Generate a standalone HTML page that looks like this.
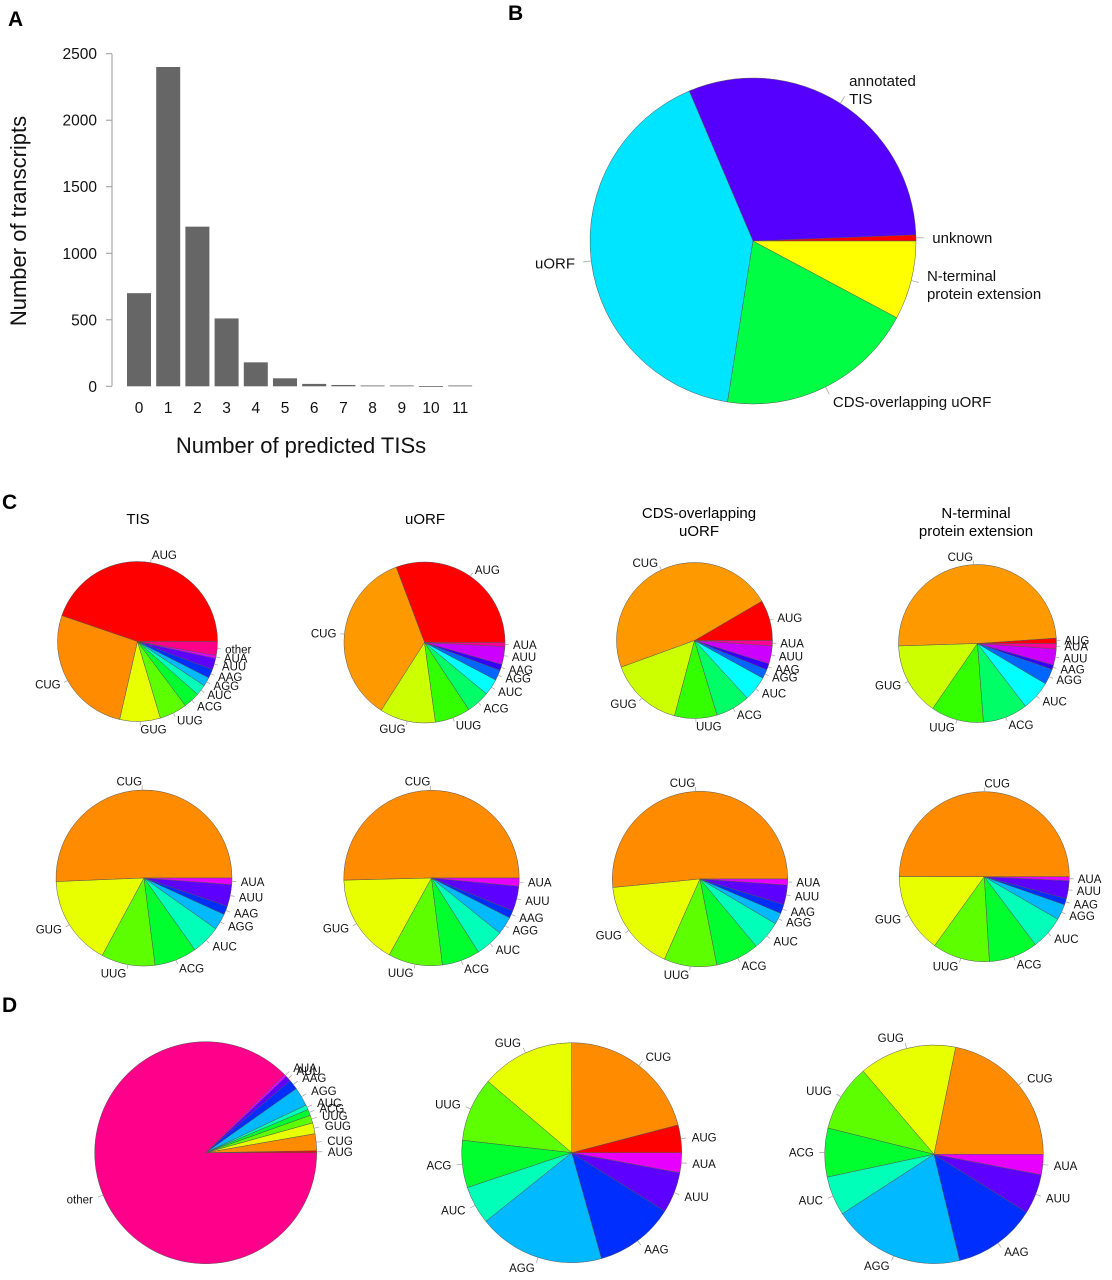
<!DOCTYPE html>
<html><head><meta charset="utf-8"><style>
html,body{margin:0;padding:0;background:#fff;}
svg{display:block;font-family:"Liberation Sans",Arial,sans-serif;}
</style></head><body>
<svg id="fig" width="1112" height="1280" viewBox="0 0 1112 1280">
<text x="8" y="26" font-size="21" font-weight="bold">A</text>
<text x="508" y="20" font-size="21" font-weight="bold">B</text>
<text x="2" y="509" font-size="21" font-weight="bold">C</text>
<text x="2" y="1012" font-size="21" font-weight="bold">D</text>
<text x="138" y="524" font-size="15" text-anchor="middle">TIS</text>
<text x="425" y="524" font-size="15" text-anchor="middle">uORF</text>
<text x="699" y="518" font-size="15" text-anchor="middle"><tspan x="699">CDS-overlapping</tspan><tspan x="699" dy="18">uORF</tspan></text>
<text x="976" y="518" font-size="15" text-anchor="middle"><tspan x="976">N-terminal</tspan><tspan x="976" dy="18">protein extension</tspan></text>
<g id="panelA"></g>
<g id="pies"></g>
</svg>
<script>
// ---- Panel A data ----
const barCategories = ["0","1","2","3","4","5","6","7","8","9","10","11"];
const barValues = [700, 2400, 1200, 510, 180, 60, 18, 10, 6, 6, 2, 6];
const yTickValues = [0, 500, 1000, 1500, 2000, 2500];

// ---- Pie data ----
const pieBLabels = ["unknown", "annotated\nTIS", "uORF", "CDS-overlapping uORF", "N-terminal\nprotein extension"];
const pieBValues = [0.6, 30.8, 41.1, 19.7, 7.8];
const codonLabels = ["AUG","CUG","GUG","UUG","ACG","AUC","AGG","AAG","AUU","AUA","other"];
const codonLabelsNoAUG = ["CUG","GUG","UUG","ACG","AUC","AGG","AAG","AUU","AUA"];
const codonLabelsNoOther = ["AUG","CUG","GUG","UUG","ACG","AUC","AGG","AAG","AUU","AUA"];
const c1TisValues = [44.8, 26.7, 8.2, 5.6, 3.3, 2.2, 1.8, 1.8, 2.3, 0.6, 2.8];
const c1UorfValues = [30.7, 35.2, 11.2, 7.1, 4.7, 3.3, 2.1, 1.2, 3.6, 0.8];
const c1CdsValues = [8.4, 47.1, 15.3, 8.8, 7.1, 5.2, 1.9, 1.3, 3.7, 1.1];
const c1NtermValues = [1.1, 49.4, 14.9, 10.8, 9.2, 6.1, 3.2, 0.9, 3.3, 1.1];
const c2TisValues = [50.7, 16.5, 9.9, 7.8, 5.4, 3.0, 1.6, 4.0, 1.2];
const c2UorfValues = [50.4, 16.6, 10.0, 7.0, 5.2, 3.3, 1.4, 4.6, 1.5];
const c2CdsValues = [51.5, 16.8, 9.7, 8.0, 5.4, 2.1, 1.7, 3.6, 1.1];
const c2NtermValues = [50.0, 15.1, 10.9, 9.3, 6.4, 3.0, 1.2, 3.4, 0.75];
const d1Values = [0.28, 2.47, 1.58, 1.14, 0.89, 0.69, 2.75, 1.44, 0.83, 0.39, 87.5];
const d2Values = [4.06, 20.9, 13.75, 9.39, 6.94, 5.58, 18.6, 11.7, 5.97, 2.92];
const d3Values = [21.8, 14.4, 9.9, 7.2, 5.8, 19.6, 12.3, 5.9, 3.0];

const R11 = ['#FF0000','#FF8B00','#E8FF00','#5DFF00','#00FF2E','#00FFB9','#00B9FF','#002EFF','#5D00FF','#E800FF','#FF008B'];
const R10 = ['#FF0000','#FF9900','#CCFF00','#33FF00','#00FF66','#00FFFF','#0066FF','#3300FF','#CC00FF','#FF0099'];
const BCOL = ['#FF0000','#5500FF','#00E5FF','#00FF44','#FFFF00'];
const NS = "http://www.w3.org/2000/svg";

function mk(tag, attrs, parent){ const e=document.createElementNS(NS,tag); for(const k in attrs) e.setAttribute(k, attrs[k]); parent.appendChild(e); return e; }

// ---- Panel A ----
(function(){
  const g = document.getElementById('panelA');
  const y0 = 386.3, y1 = 53.7, vmax = 2500;
  const y = v => y0 - v*(y0-y1)/vmax;
  const xLeft = i => 127 + 29.2*i;
  const bw = 24;
  const axis = mk('line',{x1:112,y1:y(0),x2:112,y2:y(2500),stroke:'#999','stroke-width':1},g);
  
  
  yTickValues.forEach(v=>{
    const t = mk('line',{x1:106,y1:y(v),x2:112,y2:y(v),stroke:'#999','stroke-width':1},g);
    
    
    const l = mk('text',{x:97,y:y(v)+5.5,'font-size':15.5,'text-anchor':'end',fill:'#111'},g);
    l.textContent = v;
    
    
  });
  barValues.forEach((v,i)=>{
    const r = mk('rect',{x:xLeft(i),y:y(v),width:bw,height:Math.max(y0-y(v),0.8),fill:'#666666'},g);
    
    
    const l = mk('text',{x:xLeft(i)+bw/2,y:413,'font-size':15.5,'text-anchor':'middle',fill:'#111'},g);
    l.textContent = barCategories[i];
    
    
  });
  const xt = mk('text',{x:301,y:453,'font-size':22,'text-anchor':'middle',fill:'#111'},g);
  xt.textContent = 'Number of predicted TISs';
  
  
  const yt = mk('text',{x:0,y:0,'font-size':22,'text-anchor':'middle',fill:'#111',transform:'translate(26,221) rotate(-90)'},g);
  yt.textContent = 'Number of transcripts';
  
  
})();

// ---- Pies ----
function drawPie(name, cx, cy, r, values, labels, colors, fs){
  const root = document.getElementById('pies');
  const g = mk('g',{},root);
  
  
  const total = values.reduce((a,b)=>a+b,0);
  let a0 = 0;
  values.forEach((v,i)=>{
    const a1 = a0 + v/total*2*Math.PI;
    const x0 = cx + r*Math.cos(a0), y0 = cy - r*Math.sin(a0);
    const x1 = cx + r*Math.cos(a1), y1 = cy - r*Math.sin(a1);
    const large = (a1-a0) > Math.PI ? 1 : 0;
    const p = mk('path',{d:`M${cx},${cy} L${x0},${y0} A${r},${r} 0 ${large} 0 ${x1},${y1} Z`,fill:colors[i],stroke:'#555','stroke-width':0.5,'stroke-linejoin':'round'},g);
    
    
    const am = (a0+a1)/2, c = Math.cos(am), s = Math.sin(am);
    const tk = mk('line',{x1:cx+r*c,y1:cy-r*s,x2:cx+1.05*r*c,y2:cy-1.05*r*s,stroke:'#aaa','stroke-width':0.8},g);
    
    
    const lx = cx + 1.1*r*c, ly = cy - 1.1*r*s;
    const lines = labels[i].split('\n');
    const t = mk('text',{x:lx,y:ly,'font-size':fs,'text-anchor':c>0?'start':'end',fill:'#111'},g);
    const lh = fs*1.2;
    lines.forEach((ln,k)=>{
      const ts = mk('tspan',{x:lx,y:ly + fs*0.36 - (lines.length-1)*lh/2 + k*lh},t);
      ts.textContent = ln;
    });
    
    
    a0 = a1;
  });
}
drawPie('pie-b', 753, 241, 163, pieBValues, pieBLabels, BCOL, 15);
drawPie('pie-c-tis', 137.5, 641.5, 80, c1TisValues, codonLabels, R11, 11.5);
drawPie('pie-c-uorf', 424.5, 642.5, 80.5, c1UorfValues, codonLabelsNoOther, R10, 11.5);
drawPie('pie-c-cds', 694.5, 640.5, 78, c1CdsValues, codonLabelsNoOther, R10, 11.5);
drawPie('pie-c-nterm', 977.5, 643.5, 79, c1NtermValues, codonLabelsNoOther, R10, 11.5);
drawPie('pie-c2-tis', 144, 878, 88, c2TisValues, codonLabelsNoAUG, R11.slice(1), 11.5);
drawPie('pie-c2-uorf', 431.5, 878, 87.7, c2UorfValues, codonLabelsNoAUG, R11.slice(1), 11.5);
drawPie('pie-c2-cds', 700, 879, 87.7, c2CdsValues, codonLabelsNoAUG, R11.slice(1), 11.5);
drawPie('pie-c2-nterm', 984.3, 876.7, 85, c2NtermValues, codonLabelsNoAUG, R11.slice(1), 11.5);
drawPie('pie-d-all', 205.7, 1152.7, 111, d1Values, codonLabels, R11, 11.5);
drawPie('pie-d-mid', 571.7, 1152.7, 110, d2Values, codonLabelsNoOther, R11, 11.5);
drawPie('pie-d-right', 934, 1154.3, 109.3, d3Values, codonLabelsNoAUG, R11.slice(1), 11.5);
</script>
</body></html>
